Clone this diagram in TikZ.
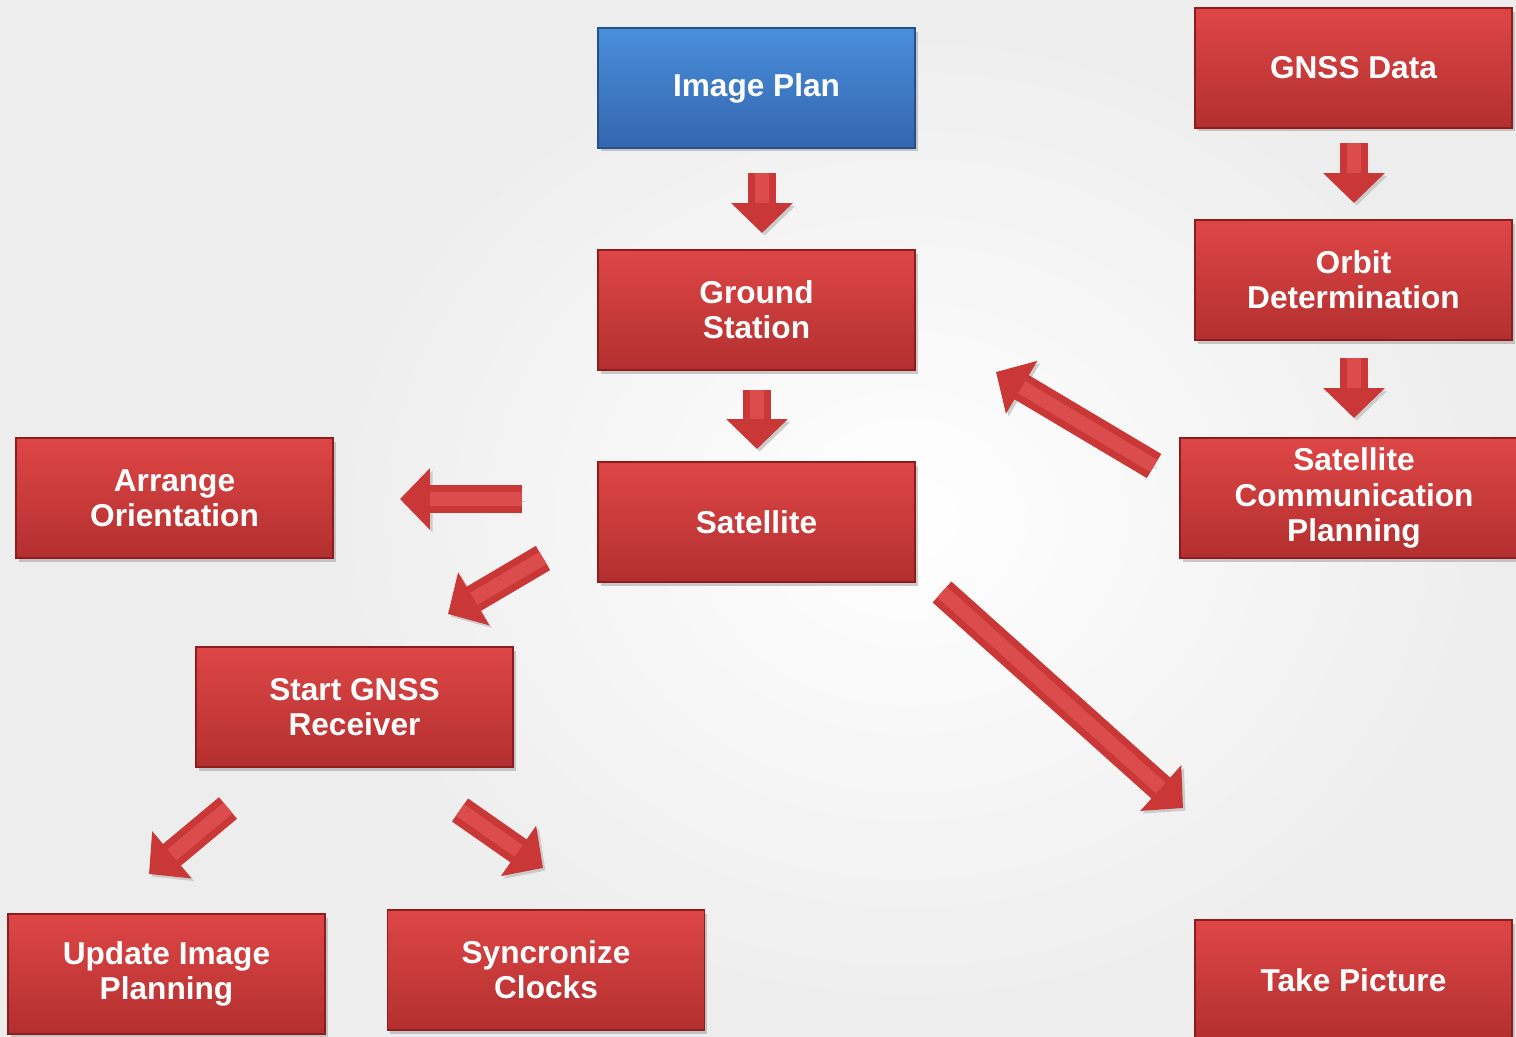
\documentclass[tikz,border=0pt]{standalone}
\usepackage{fontspec}
\setmainfont{Liberation Sans}
\usetikzlibrary{arrows.meta,shadows}
\definecolor{boxtop}{HTML}{DE4646}
\definecolor{boxbot}{HTML}{B32F2F}
\definecolor{boxline}{HTML}{8E1C1C}
\definecolor{plantop}{HTML}{4A8EDC}
\definecolor{planbot}{HTML}{3366AD}
\definecolor{planline}{HTML}{24508C}
\definecolor{arrowred}{HTML}{C93737}
\definecolor{arrowlight}{HTML}{DB4D4D}
\definecolor{backgray}{HTML}{EDEDED}

\begin{document}
\begin{tikzpicture}[x=0.02cm,y=-0.02cm,
  every node/.style={text=white, font=\fontsize{18}{20}\selectfont\bfseries, align=center,
    minimum width=6.34cm, minimum height=2.4cm, outer sep=0pt},
  redbox/.style={draw=boxline, line width=0.8pt, top color=boxtop, bottom color=boxbot,
    drop shadow={shadow xshift=1.5pt, shadow yshift=-2pt, fill=black!40}},
  bluebox/.style={redbox, draw=planline, top color=plantop, bottom color=planbot},
  blockarrow/.style={draw=arrowred, line width=16pt, -{Triangle[width=34pt,length=17pt]},
    preaction={draw=black!20, transform canvas={xshift=1.5pt,yshift=-1.5pt}},
    postaction={draw=arrowlight, line width=8pt, -, shorten >=17pt}}]
\useasboundingbox (0,0) rectangle (1516,1037);
\fill[backgray] (0,0) rectangle (1516,1037);
\shade[inner color=white, outer color=backgray] (300,0) rectangle (1516,1037);

\node[bluebox] (plan) at (756.5,88) {Image Plan};
\node[redbox] (ground) at (756.5,310) {Ground\\Station};
\node[redbox] (sat) at (756.5,522) {Satellite};
\node[redbox] (gnss) at (1353.5,68) {GNSS Data};
\node[redbox] (orbit) at (1353.5,280) {Orbit\\Determination};
\node[redbox, minimum width=6.96cm] (comm) at (1354,498) {Satellite\\Communication\\Planning};
\node[redbox] (arrange) at (174.5,498) {Arrange\\Orientation};
\node[redbox] (start) at (354.5,707) {Start GNSS\\Receiver};
\node[redbox] (update) at (166.5,974) {Update Image\\Planning};
\node[redbox] (sync) at (546,970) {Syncronize\\Clocks};
\node[redbox] (take) at (1353.5,980) {Take Picture};

\coordinate (pg1) at (762,173);   \coordinate (pg2) at (762,233);
\coordinate (gs1) at (757,390);   \coordinate (gs2) at (757,449);
\coordinate (go1) at (1354,143);  \coordinate (go2) at (1354,203);
\coordinate (oc1) at (1354,358);  \coordinate (oc2) at (1354,418);
\coordinate (cg1) at (1154,466);  \coordinate (cg2) at (996,372);
\coordinate (sa1) at (522,499);   \coordinate (sa2) at (400,499);
\coordinate (ss1) at (543,558);   \coordinate (ss2) at (448,614);
\coordinate (st1) at (942,592);   \coordinate (st2) at (1183,808);
\coordinate (su1) at (228,808);   \coordinate (su2) at (149,874);
\coordinate (sc1) at (460,810);   \coordinate (sc2) at (543,868);

\draw[blockarrow] (pg1) -- (pg2);
\draw[blockarrow] (gs1) -- (gs2);
\draw[blockarrow] (go1) -- (go2);
\draw[blockarrow] (oc1) -- (oc2);
\draw[blockarrow] (cg1) -- (cg2);
\draw[blockarrow] (sa1) -- (sa2);
\draw[blockarrow] (ss1) -- (ss2);
\draw[blockarrow] (st1) -- (st2);
\draw[blockarrow] (su1) -- (su2);
\draw[blockarrow] (sc1) -- (sc2);
\end{tikzpicture}
\end{document}
